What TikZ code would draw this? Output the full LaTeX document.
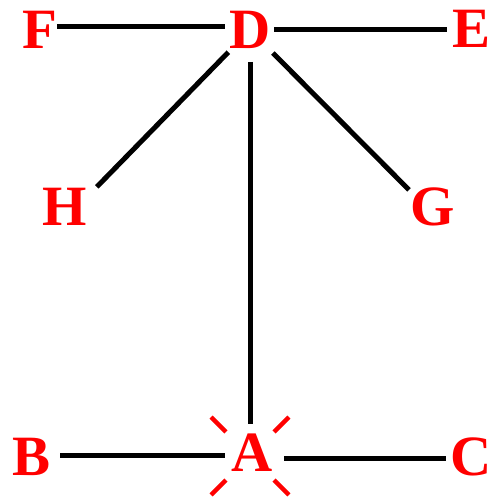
\documentclass[tikz,border=0pt]{standalone}
\usepackage{fontspec}
\setmainfont{Liberation Serif}[BoldFont={Liberation Serif Bold}]
\usetikzlibrary{calc}
\begin{document}
\begin{tikzpicture}[x=1bp,y=-1bp,
  lbl/.style={text=red, font=\fontsize{57bp}{60bp}\selectfont\bfseries, inner sep=0pt, anchor=center},
  bond/.style={line width=5bp, draw=black},
  ray/.style={line width=4.5bp, draw=red}]
\useasboundingbox (0,0) rectangle (500,500);
% atom points
\coordinate (pD) at (250,30);
\coordinate (pF) at (40,27);
\coordinate (pE) at (471,30);
\coordinate (pH) at (64,220.5);
\coordinate (pG) at (433,214);
\coordinate (pA) at (250,456);
\coordinate (pB) at (32,455);
\coordinate (pC) at (471,458);
% labels
\node[lbl] (D) at (250,29.5) {D};
\node[lbl] (F) at (40,30) {F};
\node[lbl] (E) at (471.5,29) {E};
\node[lbl] (H) at (64.5,207) {H};
\node[lbl] (G) at (433,206.5) {G};
\node[lbl] (A) at (252,453) {A};
\node[lbl] (B) at (32,456.5) {B};
\node[lbl] (C) at (471,456.5) {C};
% bonds
\draw[bond, shorten <=17bp, shorten >=25bp] (pF) -- (pF -| pD);
\draw[bond, shorten <=24bp, shorten >=24bp] (pD) -- (pE);
\draw[bond, shorten <=31bp, shorten >=47bp] (pD) -- (pH);
\draw[bond, shorten <=32.5bp, shorten >=34bp] (pD) -- (pG);
\draw[bond, shorten <=32bp, shorten >=32bp] (pD) -- (pA);
\draw[bond, shorten <=28bp, shorten >=25bp] (pB) -- (pB -| pA);
\draw[bond, shorten <=34bp, shorten >=25bp] (pC -| pA) -- (pC);
% rays round A
\foreach \a in {45,135,225,315}
  \draw[ray] ($(pA)+(\a:34)$) -- ($(pA)+(\a:55)$);
\end{tikzpicture}
\end{document}
